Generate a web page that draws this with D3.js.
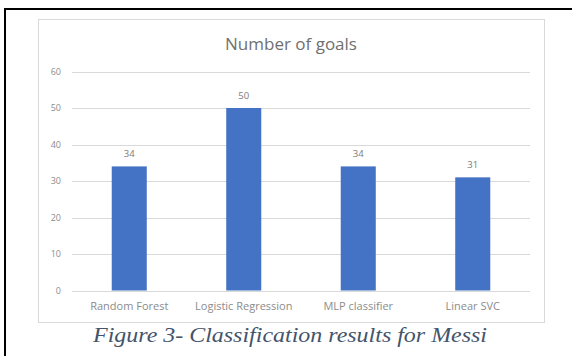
<!DOCTYPE html>
<html>
<head>
<meta charset="utf-8">
<script src="https://cdn.jsdelivr.net/npm/d3@7"></script>
<style>
  body { margin: 0; background: #fff; }
  svg { display: block; }
</style>
</head>
<body>
<div id="chart"></div>
<script>
const categories = ["Random Forest", "Logistic Regression", "MLP classifier", "Linear SVC"];
const goals = [34, 50, 34, 31];
const yTicks = [0, 10, 20, 30, 40, 50, 60];
const chartTitle = "Number of goals";
const caption = "Figure 3- Classification results for Messi";

const W = 572, H = 356;
const svg = d3.select("#chart").append("svg").attr("width", W).attr("height", H);

// page frame (black, cut off at right/bottom)
svg.append("rect")
  .attr("x", 5).attr("y", 9).attr("width", W + 10).attr("height", H + 10)
  .attr("fill", "#fff").attr("stroke", "#000").attr("stroke-width", 2);

// chart area box
svg.append("rect")
  .attr("x", 38.5).attr("y", 19.5).attr("width", 506).attr("height", 303)
  .attr("fill", "#fff").attr("stroke", "#d9d9d9").attr("stroke-width", 1);

const x = d3.scaleBand().domain(categories).range([72, 530])
  .paddingInner(0.694).paddingOuter(0.347);
const y = d3.scaleLinear().domain([0, 60]).range([290.5, 71.5]);

// gridlines
svg.append("g").selectAll("line").data(yTicks).join("line")
  .attr("x1", 72).attr("x2", 530)
  .attr("y1", d => Math.round(y(d)) + 0.5).attr("y2", d => Math.round(y(d)) + 0.5)
  .attr("stroke", "#d9d9d9").attr("stroke-width", 1);

// y axis labels
const yAxis = svg.append("g").attr("transform", "translate(61,0)")
  .call(d3.axisLeft(y).tickValues(yTicks).tickSize(0).tickPadding(0));
yAxis.select(".domain").remove();
yAxis.selectAll("text")
  .attr("fill", "#8c8c8c").style("font-family", "Open Sans, sans-serif").style("font-size", "9px");

// bars
svg.append("g").selectAll("rect").data(goals).join("rect")
  .attr("x", (d, i) => x(categories[i]))
  .attr("y", d => y(d))
  .attr("width", x.bandwidth())
  .attr("height", d => y(0) - y(d))
  .attr("fill", "#4472c4");

// data labels
svg.append("g").selectAll("text").data(goals).join("text")
  .attr("x", (d, i) => x(categories[i]) + x.bandwidth() / 2)
  .attr("y", d => y(d) - 9)
  .attr("text-anchor", "middle")
  .attr("fill", "#7a7a7a")
  .style("font-family", "Open Sans, sans-serif").style("font-size", "9.5px")
  .text(d => d);

// x axis labels
const xAxis = svg.append("g").attr("transform", "translate(0,302)")
  .call(d3.axisBottom(x).tickSize(0).tickPadding(0));
xAxis.select(".domain").remove();
xAxis.selectAll("text")
  .attr("fill", "#8c8c8c").style("font-family", "Open Sans, sans-serif").style("font-size", "11px");

// title
svg.append("text")
  .attr("x", 291).attr("y", 50)
  .attr("text-anchor", "middle")
  .attr("fill", "#707070")
  .style("font-family", "Open Sans, sans-serif").style("font-size", "17px")
  .text(chartTitle);

// caption
svg.append("text")
  .attr("x", 290).attr("y", 342)
  .attr("text-anchor", "middle")
  .attr("textLength", 394).attr("lengthAdjust", "spacingAndGlyphs")
  .attr("fill", "#44546a")
  .style("font-family", "Liberation Serif, serif").style("font-style", "italic").style("font-size", "22px")
  .text(caption);
</script>
</body>
</html>
